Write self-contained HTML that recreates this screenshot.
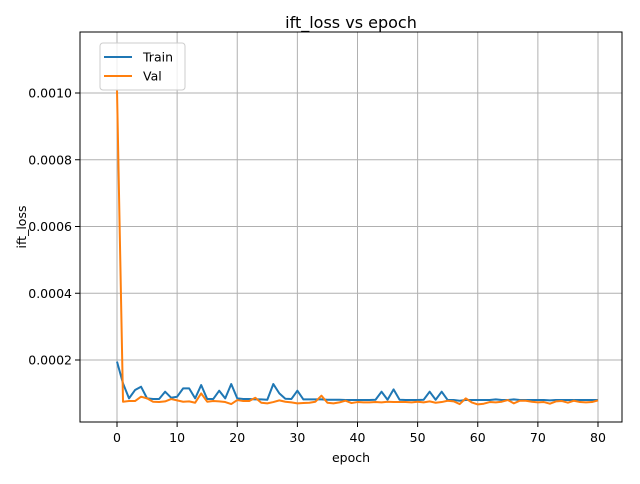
<!DOCTYPE html>
<html><head><meta charset="utf-8"><style>
body{margin:0;background:#fff;font-family:"DejaVu Sans","Liberation Sans",sans-serif;}
svg text{font-family:"DejaVu Sans","Liberation Sans",sans-serif;}
</style></head><body>
<svg id="chart" width="640" height="480" xmlns="http://www.w3.org/2000/svg"></svg>
<script>
const epochs = Array.from({length:81},(_,i)=>i);
const trainLoss = [19.5,13,8.5,11,12,8.5,8.3,8.3,10.5,8.7,9,11.5,11.5,8.5,12.5,8.3,8.3,10.8,8.5,12.8,8.5,8.3,8.3,8.2,8.2,8.1,12.8,10,8.4,8.3,10.8,8.2,8.2,8.2,8.2,8.1,8.1,8.1,8.0,8.0,8.0,8.0,8.0,8.1,10.5,8.1,11.2,8.1,8,8,8,8.1,10.5,8.1,10.5,8,8,7.8,8,8,8,8,8,8.2,8,8,8.2,8,8,8,8,8,7.9,8,8,8,8,8,8,8,8].map(v=>v*1e-5);
const valLoss = [101,7.5,7.7,7.7,9,8.5,7.5,7.4,7.6,8.3,7.9,7.5,7.6,7.2,10,7.5,7.7,7.6,7.4,6.8,8,7.7,7.7,8.7,7.2,7,7.4,7.9,7.5,7.3,7.0,7.1,7.2,7.5,9.3,7.2,7,7.3,7.8,7.1,7.4,7.3,7.3,7.4,7.3,7.5,7.4,7.4,7.4,7.3,7.5,7.3,7.6,7.2,7.4,7.8,7.6,6.8,8.5,7.3,6.7,6.9,7.4,7.3,7.5,8,7.0,7.8,7.8,7.5,7.3,7.4,6.9,7.6,7.7,7.2,7.8,7.4,7.3,7.4,7.9].map(v=>v*1e-5);
const xTicks = [0,10,20,30,40,50,60,70,80];
const yTicks = [0.0002,0.0004,0.0006,0.0008,0.0010];
const yTickLabels = ["0.0002","0.0004","0.0006","0.0008","0.0010"];
const L=80,R=622,T=32,B=422;
const xs = v => 117 + v*(598-117)/80;
const ys = v => 426.75 - v/0.0002*66.75;
const svg = document.getElementById('chart');
const NS='http://www.w3.org/2000/svg';
function mk(tag, attrs, parent){const e=document.createElementNS(NS,tag);for(const k in attrs)e.setAttribute(k,attrs[k]);(parent||svg).appendChild(e);return e;}
xTicks.forEach(t=>{
  const g=mk('line',{x1:xs(t),x2:xs(t),y1:T,y2:B,stroke:'#b0b0b0','stroke-width':1});
  
  
  const tk=mk('line',{x1:xs(t),x2:xs(t),y1:B,y2:B+5,stroke:'#000','stroke-width':1});
  
  
  const tx=mk('text',{x:xs(t),y:B+20,'text-anchor':'middle','font-size':12.5});
  tx.textContent=t;
  
  
});
yTicks.forEach((t,i)=>{
  const g=mk('line',{x1:L,x2:R,y1:ys(t),y2:ys(t),stroke:'#b0b0b0','stroke-width':1});
  
  
  const tk=mk('line',{x1:L-5,x2:L,y1:ys(t),y2:ys(t),stroke:'#000','stroke-width':1});
  
  
  const tx=mk('text',{x:L-8,y:ys(t)+4.5,'text-anchor':'end','font-size':12.5});
  tx.textContent=yTickLabels[i];
  
  
});
function line(data,color,name){
  const p=mk('polyline',{points:data.map((v,i)=>xs(epochs[i])+','+ys(v)).join(' '),fill:'none',stroke:color,'stroke-width':2,'stroke-linejoin':'round'});
  
  
}
line(trainLoss,'#1f77b4','train-line');
line(valLoss,'#ff7f0e','val-line');
const fr=mk('rect',{x:L,y:T,width:R-L,height:B-T,fill:'none',stroke:'#000','stroke-width':1});


const ti=mk('text',{x:351,y:28,'text-anchor':'middle','font-size':16});ti.textContent='ift_loss vs epoch';


const xl=mk('text',{x:351,y:462,'text-anchor':'middle','font-size':12.5});xl.textContent='epoch';


const yl=mk('text',{x:26,y:227,'text-anchor':'middle','font-size':12.5,transform:'rotate(-90 26 227)'});yl.textContent='ift_loss';


const lg=mk('g',{});


mk('rect',{x:100,y:43,width:85,height:47,rx:3,fill:'#fff','fill-opacity':0.8,stroke:'#ccc','stroke-width':1},lg);
[['Train','#1f77b4',57],['Val','#ff7f0e',76]].forEach(([n,c,y])=>{
  const e=mk('g',{},lg);
  
  
  mk('line',{x1:104,x2:132,y1:y,y2:y,stroke:c,'stroke-width':2},e);
  const t=mk('text',{x:143,y:y+4.5,'font-size':12.5},e);t.textContent=n;
});
</script>
</body></html>
